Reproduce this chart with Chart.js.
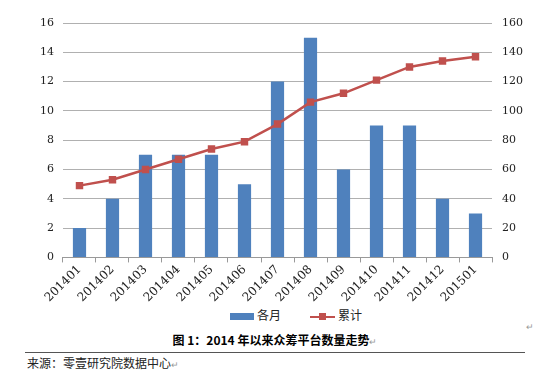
<!DOCTYPE html>
<html>
<head>
<meta charset="utf-8">
<script src="https://cdn.jsdelivr.net/npm/chart.js@4"></script>
<style>
  html, body { margin: 0; padding: 0; background: #fff; }
  #wrap { position: relative; width: 550px; height: 376px; overflow: hidden; }
  #chartBox { position: absolute; left: 0; top: 0; width: 550px; height: 305px; }
  .legend { position: absolute; top: 306px; font: 12px "Noto Sans CJK SC", sans-serif; color: #222; }
  .caption { position: absolute; top: 331px; left: 0; width: 550px; text-align: center; font: bold 12px "Noto Sans CJK SC", serif; color: #000; }
  .rule { position: absolute; left: 25px; top: 352px; width: 500px; border-top: 1px solid #555; }
  .source { position: absolute; left: 27px; top: 354px; font: 12px "Noto Sans CJK SC", sans-serif; color: #222; }
  .ret { color: #999; font-size: 9px; font-weight: normal; }
</style>
</head>
<body>
<div id="wrap">
  <div id="chartBox"><canvas id="c"></canvas></div>
  <div class="legend" style="left:230px;"><span style="display:inline-block;width:24px;height:7px;background:#4F81BD;vertical-align:middle;margin-right:3px;"></span>各月</div>
  <div class="legend" style="left:310px;"><span style="display:inline-block;position:relative;width:25px;height:12px;vertical-align:middle;margin-right:3px;"><span style="position:absolute;left:0;top:5px;width:25px;height:2px;background:#C0504D;"></span><span style="position:absolute;left:9px;top:2px;width:7px;height:7px;background:#C0504D;"></span></span>累计</div>
  <div class="ret" style="position:absolute;left:526px;top:322px;">↵</div>
  <div class="caption">图 1：2014 年以来众筹平台数量走势<span class="ret">↵</span></div>
  <div class="rule"></div>
  <div class="source">来源：零壹研究院数据中心<span class="ret">↵</span></div>
</div>
<script>
const months = ["201401", "201402", "201403", "201404", "201405", "201406", "201407",
  "201408", "201409", "201410", "201411", "201412", "201501"];
const monthly = [2, 4, 7, 7, 7, 5, 12, 15, 6, 9, 9, 4, 3];
const cumulative = [49, 53, 60, 67, 74, 79, 91, 106, 112, 121, 130, 134, 137];

const tickFont = { family: "DejaVu Serif", size: 11 };

new Chart(document.getElementById("c"), {
  data: {
    labels: months,
    datasets: [
      {
        type: "line",
        label: "累计",
        data: cumulative,
        yAxisID: "y1",
        borderColor: "#C0504D",
        backgroundColor: "#C0504D",
        borderWidth: 2.5,
        pointStyle: "rect",
        pointRadius: 3.5,
        tension: 0,
        order: 0,
      },
      {
        type: "bar",
        label: "各月",
        data: monthly,
        yAxisID: "y",
        backgroundColor: "#4F81BD",
        barPercentage: 0.4,
        categoryPercentage: 1,
        order: 1,
      },
    ],
  },
  options: {
    responsive: true,
    maintainAspectRatio: false,
    animation: false,
    layout: { padding: { left: 31, right: 17, top: 23, bottom: 0 } },
    plugins: { legend: { display: false }, tooltip: { enabled: false } },
    scales: {
      x: {
        offset: true,
        grid: { offset: true, drawOnChartArea: false, drawTicks: true, tickLength: 5, color: "#999" },
        border: { color: "#999" },
        ticks: { font: { family: "DejaVu Serif", size: 12 }, color: "#222", maxRotation: 45, minRotation: 45, padding: 0 },
      },
      y: {
        position: "left",
        min: 0, max: 16,
        ticks: { stepSize: 2, font: tickFont, color: "#222", padding: 9 },
        grid: { color: "#b0b0b0", drawTicks: false },
        border: { display: false },
      },
      y1: {
        position: "right",
        min: 0, max: 160,
        ticks: { stepSize: 20, font: tickFont, color: "#222", padding: 10 },
        grid: { drawOnChartArea: false, drawTicks: false },
        border: { display: false },
      },
    },
  },
});
</script>
</body>
</html>
